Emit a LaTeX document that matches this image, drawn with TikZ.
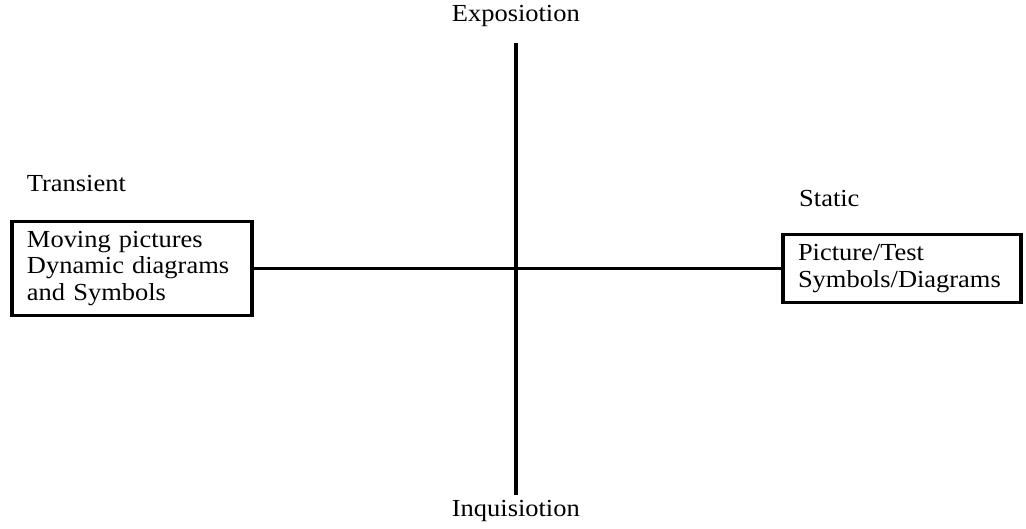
\documentclass[tikz,border=0pt]{standalone}
\usepackage{fontspec}
\setmainfont{Liberation Serif}[FakeStretch=1.08]
\begin{document}
\begin{tikzpicture}[x=1pt,y=-1pt,
  lbl/.style={anchor=base west,inner sep=0pt,font=\fontsize{24.5}{26.7}\selectfont},
  boxnode/.style={draw,line width=3.2pt,align=left,inner xsep=15pt,inner ysep=0pt,
    font=\fontsize{24.5}{26.7}\selectfont},
  axis/.style={line width=3.2pt}]
\useasboundingbox (0,0) rectangle (1026,528);
\node[boxnode,text width=210pt,minimum height=94pt] (L) at (132,268.5)
  {Moving pictures\\Dynamic diagrams\\and Symbols};
\node[boxnode,text width=208pt,minimum height=68pt] (R) at (902,268.5)
  {Picture/Test\\Symbols/Diagrams};
\coordinate (T) at (516,43);
\coordinate (B) at (516,495);
\draw[axis] (L.east) -- (R.west);
\draw[axis] (T) -- (B);
\node[lbl] (ex) at (451.7,21.7) {Exposiotion};
\node[lbl] (in) at (451.7,516.7) {Inquisiotion};
\node[lbl] (tr) at (26.7,191.7) {Transient};
\node[lbl] (st) at (799,206.7) {Static};
\end{tikzpicture}
\end{document}
